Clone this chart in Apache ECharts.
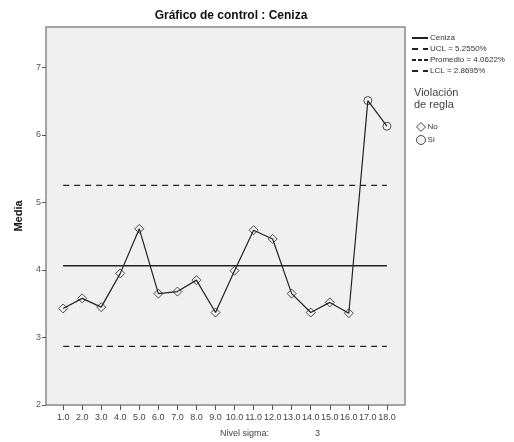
<!DOCTYPE html>
<html>
<head>
<meta charset="utf-8">
<script src="https://cdn.jsdelivr.net/npm/echarts@6/dist/echarts.min.js"></script>
<style>
  html, body { margin: 0; padding: 0; background: #fff; }
  #chart { width: 514px; height: 442px; }
</style>
</head>
<body>
<div id="chart"></div>
<script>
// data
var samples = [1, 2, 3, 4, 5, 6, 7, 8, 9, 10, 11, 12, 13, 14, 15, 16, 17, 18];
var means = [3.43, 3.58, 3.45, 3.95, 4.61, 3.65, 3.68, 3.85, 3.37, 3.99, 4.59, 4.46, 3.65, 3.37, 3.52, 3.36, 6.51, 6.13];
var violation = ['No', 'No', 'No', 'No', 'No', 'No', 'No', 'No', 'No', 'No', 'No', 'No', 'No', 'No', 'No', 'No', 'Sí', 'Sí'];
var ucl = 5.2550;
var centre = 4.0622;
var lcl = 2.8695;
var sigmaLevel = 3;

var ink = '#222';
var pts = samples.map(function (s, i) { return [s, means[i]]; });
var noPts = pts.filter(function (p, i) { return violation[i] === 'No'; });
var siPts = pts.filter(function (p, i) { return violation[i] === 'Sí'; });
function flat(v) { return [[samples[0], v], [samples[samples.length - 1], v]]; }

var chart = echarts.init(document.getElementById('chart'));
chart.setOption({
  animation: false,
  textStyle: { fontFamily: 'Liberation Sans, Arial, sans-serif' },
  title: {
    text: 'Gráfico de control : Ceniza',
    left: 226, top: 5, textAlign: 'center',
    textStyle: { fontSize: 12, fontWeight: 'bold', color: '#111' }
  },
  grid: {
    left: 46, right: 109, top: 27, bottom: 37,
    show: true, backgroundColor: '#f0f0f0', borderColor: '#888', borderWidth: 1.5
  },
  xAxis: {
    type: 'value', min: 0.1, max: 18.95,
    axisLine: { show: false },
    splitLine: { show: false },
    axisTick: { show: true, length: 5, customValues: samples, lineStyle: { color: '#555' } },
    axisLabel: {
      customValues: samples, fontSize: 9, color: '#444', margin: 8,
      formatter: function (v) { return v.toFixed(1); }
    }
  },
  yAxis: {
    type: 'value', min: 2, max: 7.6, interval: 1,
    name: 'Media', nameLocation: 'middle', nameGap: 22,
    nameTextStyle: { fontSize: 11, fontWeight: 'bold', color: '#111' },
    axisLine: { show: false },
    splitLine: { show: false },
    axisTick: { show: true, length: 4, lineStyle: { color: '#555' } },
    axisLabel: { fontSize: 9, color: '#555', margin: 5, showMaxLabel: false }
  },
  legend: [{
    orient: 'vertical', left: 406, top: 29, itemWidth: 16, itemHeight: 6, itemGap: 3,
    itemStyle: { opacity: 0 },
    textStyle: { fontSize: 8, color: '#333', padding: [0, 0, 0, -3] },
    data: [
      { name: 'Ceniza' },
      { name: 'UCL = 5.2550%' },
      { name: 'Promedio = 4.0622%', lineStyle: { type: [4, 2] } },
      { name: 'LCL = 2.8695%' }
    ]
  }, {
    orient: 'vertical', left: 411, top: 117, itemWidth: 9, itemHeight: 9, itemGap: 3,
    itemStyle: { borderWidth: 1 },
    textStyle: { fontSize: 8, color: '#333', padding: [0, 0, 0, -3] },
    data: ['No', 'Sí']
  }],
  graphic: [{
    type: 'text', left: 414, top: 87,
    style: { text: 'Violación\nde regla', fontSize: 11, lineHeight: 12, fill: '#444', fontFamily: 'Liberation Sans, Arial, sans-serif' }
  }, {
    type: 'text', left: 220, top: 429,
    style: { text: 'Nivel sigma:', fontSize: 9, fill: '#444', fontFamily: 'Liberation Sans, Arial, sans-serif' }
  }, {
    type: 'text', left: 315, top: 429,
    style: { text: String(sigmaLevel), fontSize: 9, fill: '#444', fontFamily: 'Liberation Sans, Arial, sans-serif' }
  }],
  series: [{
    name: 'UCL = 5.2550%', type: 'line', data: flat(ucl), symbol: 'none',
    lineStyle: { color: ink, width: 1.3, type: [6, 5] }, itemStyle: { color: ink }
  }, {
    name: 'Promedio = 4.0622%', type: 'line', data: flat(centre), symbol: 'none',
    lineStyle: { color: ink, width: 1.5 }, itemStyle: { color: ink }
  }, {
    name: 'LCL = 2.8695%', type: 'line', data: flat(lcl), symbol: 'none',
    lineStyle: { color: ink, width: 1.3, type: [6, 5] }, itemStyle: { color: ink }
  }, {
    name: 'Ceniza', type: 'line', data: pts, symbol: 'none',
    lineStyle: { color: ink, width: 1.2 }, itemStyle: { color: ink }
  }, {
    name: 'No', type: 'scatter', data: noPts, symbol: 'diamond', symbolSize: 9,
    itemStyle: { color: '#f0f0f0', borderColor: ink, borderWidth: 1 }
  }, {
    name: 'Sí', type: 'scatter', data: siPts, symbol: 'circle', symbolSize: 8,
    itemStyle: { color: '#f0f0f0', borderColor: ink, borderWidth: 1 }
  }]
});
</script>
</body>
</html>
